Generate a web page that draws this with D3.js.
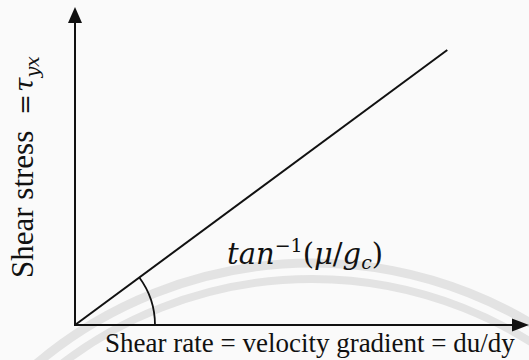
<!DOCTYPE html>
<html>
<head>
<meta charset="utf-8">
<script src="https://cdn.jsdelivr.net/npm/d3@7"></script>
<style>
  html, body { margin: 0; padding: 0; background: #fafafa; }
  svg { display: block; }
</style>
</head>
<body>
<svg id="chart" width="529" height="360"></svg>
<script>
// Newtonian fluid: shear stress grows linearly with shear rate (arbitrary units)
const shearRate   = [0, 8.2];
const shearStress = [0, 8.65];

// Axis extents (arbitrary units, the arrow tips sit at the domain maxima)
const xMax = 10;
const yMax = 10;

// Text
const xLabel = "Shear rate = velocity gradient = du/dy";
const yLabelWords = "Shear stress";

const svg = d3.select("#chart");

const x = d3.scaleLinear().domain([0, xMax]).range([75, 529]);
const y = d3.scaleLinear().domain([0, yMax]).range([325, 7]);

const serif = "'Liberation Serif', 'Times New Roman', serif";
const mathFont = "'DejaVu Serif', serif";

// faint circular watermark in the background
const wm = svg.append("g").attr("fill", "none").attr("stroke", "#e3e3e3");
wm.append("circle").attr("cx", 312).attr("cy", 690).attr("r", 427).attr("stroke-width", 9);
wm.append("circle").attr("cx", 312).attr("cy", 690).attr("r", 411).attr("stroke-width", 8);

// axes with arrowheads
const axes = svg.append("g").attr("stroke", "#111").attr("stroke-width", 2);
axes.append("line")
  .attr("x1", x(0)).attr("y1", y(0))
  .attr("x2", x(0)).attr("y2", y(yMax) + 12);
axes.append("line")
  .attr("x1", x(0) - 1).attr("y1", y(0))
  .attr("x2", x(xMax) - 12).attr("y2", y(0));

svg.append("path")
  .attr("fill", "#111")
  .attr("d", `M${x(0)},${y(yMax)} L${x(0) - 7},${y(yMax) + 16} L${x(0) + 7},${y(yMax) + 16} Z`);
svg.append("path")
  .attr("fill", "#111")
  .attr("d", `M${x(xMax)},${y(0)} L${x(xMax) - 17},${y(0) - 6.5} L${x(xMax) - 17},${y(0) + 6.5} Z`);

// the flow curve
const pts = shearRate.map((d, i) => [d, shearStress[i]]);
svg.append("path")
  .datum(pts)
  .attr("fill", "none")
  .attr("stroke", "#111")
  .attr("stroke-width", 2)
  .attr("d", d3.line().x(d => x(d[0])).y(d => y(d[1])));

// angle marker between the x axis and the line
const theta = Math.atan2(y(0) - y(shearStress[1]), x(shearRate[1]) - x(0));
const arc = d3.arc()
  .innerRadius(80).outerRadius(80)
  .startAngle(Math.PI / 2 - theta).endAngle(Math.PI / 2);
svg.append("path")
  .attr("transform", `translate(${x(0)},${y(0)})`)
  .attr("d", arc())
  .attr("fill", "none")
  .attr("stroke", "#111")
  .attr("stroke-width", 1.8);

// slope annotation: tan^-1(mu/g_c)
const ann = svg.append("text")
  .attr("x", 227).attr("y", 264)
  .attr("font-family", mathFont)
  .attr("font-size", 29)
  .attr("fill", "#111");
ann.append("tspan").attr("font-style", "italic").text("tan");
ann.append("tspan").attr("font-size", 19).attr("dy", -12).text("−1");
ann.append("tspan").attr("dy", 12).text("(");
ann.append("tspan").attr("font-style", "italic").text("μ");
ann.append("tspan").text("/");
ann.append("tspan").attr("font-style", "italic").text("g");
ann.append("tspan").attr("font-style", "italic").attr("font-size", 19).attr("dy", 5).text("c");
ann.append("tspan").attr("dy", -5).text(")");

// x axis label
svg.append("text")
  .attr("x", 105).attr("y", 352)
  .attr("font-family", serif)
  .attr("font-size", 27)
  .attr("fill", "#111")
  .text(xLabel);

// y axis label: plain words followed by the math part "= τ_yx"
const yl = svg.append("text")
  .attr("transform", "translate(33,278) rotate(-90)")
  .attr("font-family", serif)
  .attr("font-size", 31)
  .attr("fill", "#111");
yl.append("tspan").text(yLabelWords);
yl.append("tspan").attr("x", 163).attr("font-family", mathFont).attr("font-size", 25).text("=");
yl.append("tspan").attr("x", 186).attr("font-family", mathFont).attr("font-style", "italic").attr("font-size", 26).text("τ");
yl.append("tspan").attr("font-family", mathFont).attr("font-style", "italic").attr("font-size", 19).attr("dy", 6).text("yx");
</script>
</body>
</html>
